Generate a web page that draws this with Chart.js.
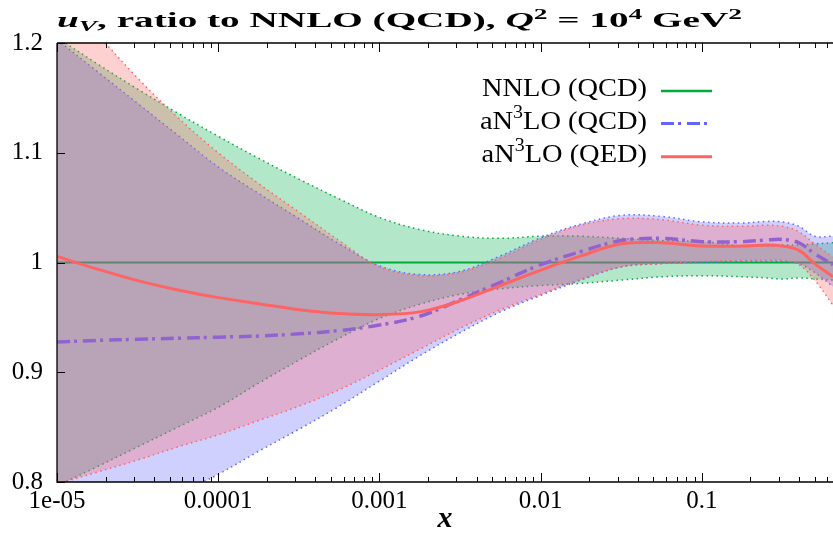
<!DOCTYPE html>
<html>
<head>
<meta charset="utf-8">
<script src="https://cdn.jsdelivr.net/npm/chart.js@4.4.1/dist/chart.umd.min.js"></script>
<style>
html, body { margin: 0; padding: 0; background: #fff; }
#wrap { position: relative; width: 833px; height: 541px; }
</style>
</head>
<body>
<div id="wrap"><canvas id="uv-ratio" width="833" height="541"></canvas></div>
<script>
// u_V ratio to NNLO (QCD) at Q^2 = 1e4 GeV^2

var xVals = [1e-5, 1.778e-5, 3.162e-5, 5.623e-5, 1e-4, 1.778e-4, 3.162e-4, 5.623e-4,
             1e-3, 1.778e-3, 3.162e-3, 5.623e-3, 0.01, 0.01778, 0.03162, 0.05623,
             0.1, 0.1778, 0.25, 0.316, 0.4, 0.5, 0.65];

// NNLO (QCD) band + central
var nnloHi  = [1.205, 1.181, 1.158, 1.136, 1.115, 1.095, 1.076, 1.058, 1.041, 1.030, 1.024, 1.022,
               1.024, 1.024, 1.022, 1.020, 1.019, 1.015, 1.015, 1.016, 1.016, 1.017, 1.018];
var nnloLo  = [0.7965, 0.814, 0.832, 0.850, 0.868, 0.890, 0.911, 0.931, 0.949, 0.962, 0.971, 0.976,
               0.979, 0.981, 0.984, 0.987, 0.988, 0.987, 0.986, 0.985, 0.986, 0.985, 0.984];
var nnloMid = [1, 1, 1, 1, 1, 1, 1, 1, 1, 1, 1, 1, 1, 1, 1, 1, 1, 1, 1, 1, 1, 1, 1];

// aN3LO (QCD)
var qcdHi  = [1.203, 1.174, 1.145, 1.116, 1.087, 1.063, 1.040, 1.017, 0.997, 0.989, 0.992, 1.006,
              1.0225, 1.035, 1.043, 1.042, 1.037, 1.036, 1.0374, 1.037, 1.033, 1.024, 1.024];
var qcdLo  = [0.733, 0.752, 0.771, 0.789, 0.807, 0.828, 0.848, 0.869, 0.892, 0.915, 0.936, 0.955,
              0.970, 0.984, 0.996, 0.999, 1.000, 1.001, 1.001, 1.001, 0.999, 0.991, 0.978];
var qcdMid = [0.9276, 0.929, 0.930, 0.931, 0.932, 0.933, 0.935, 0.938, 0.943, 0.951, 0.966, 0.982,
              0.998, 1.010, 1.020, 1.022, 1.019, 1.019, 1.0205, 1.021, 1.018, 1.008, 0.998];

// aN3LO (QED)
var qedHi  = [1.247, 1.208, 1.168, 1.132, 1.100, 1.072, 1.046, 1.020, 0.996, 0.988, 0.991, 1.004,
              1.021, 1.034, 1.040, 1.039, 1.034, 1.033, 1.034, 1.033, 1.028, 1.017, 1.005];
var qedLo  = [0.798, 0.809, 0.820, 0.832, 0.843, 0.856, 0.869, 0.884, 0.902, 0.921, 0.940, 0.957,
              0.971, 0.985, 0.996, 0.999, 1.001, 1.002, 1.002, 1.002, 0.998, 0.984, 0.961];
var qedMid = [1.0055, 0.994, 0.9835, 0.975, 0.968, 0.9625, 0.957, 0.9535, 0.9525, 0.955, 0.965, 0.979,
              0.993, 1.006, 1.017, 1.018, 1.015, 1.015, 1.016, 1.015, 1.011, 0.999, 0.987];

var xTickVals = [1e-5, 1e-4, 1e-3, 1e-2, 1e-1];
var xTickLabels = ["1e-05", "0.0001", "0.001", "0.01", "0.1"];
var yTickVals = [0.8, 0.9, 1.0, 1.1, 1.2];
var yTickLabels = ["0.8", "0.9", "1", "1.1", "1.2"];

var SERIF = '"Liberation Serif", "DejaVu Serif", serif';
var GREEN = "rgb(0,170,60)", BLUE = "rgb(100,100,255)", RED = "rgb(255,100,100)";

function pts(arr) {
  return arr.map(function(v, i) { return { x: xVals[i], y: v }; });
}

function bandEdge(arr, color, order, fillColor) {
  return {
    data: pts(arr),
    borderColor: color,
    borderWidth: 1.5,
    borderDash: [1.5, 3.5],
    pointRadius: 0,
    tension: 0.35,
    fill: fillColor ? "+1" : false,
    backgroundColor: fillColor || "transparent",
    order: order
  };
}

// rich text helpers (sub/superscripts)
function setFont(ctx, f, size) { ctx.font = ((f || "") + " " + size + "px " + SERIF).trim(); }
function richWidth(ctx, parts, size) {
  var w = 0;
  parts.forEach(function(p) {
    setFont(ctx, p.f, p.s ? size * 0.7 : size);
    w += ctx.measureText(p.t).width;
  });
  return w;
}
function drawRich(ctx, parts, x, y, size) {
  parts.forEach(function(p) {
    setFont(ctx, p.f, p.s ? size * 0.7 : size);
    var dy = p.s === "sup" ? -size * 0.4 : (p.s === "sub" ? size * 0.2 : 0);
    ctx.fillText(p.t, x, y + dy);
    x += ctx.measureText(p.t).width;
  });
}

var titleParts = [
  { t: "u", f: "italic bold" }, { t: "V", f: "italic bold", s: "sub" },
  { t: ", ratio to NNLO (QCD), ", f: "bold" },
  { t: "Q", f: "italic bold" }, { t: "2", f: "bold", s: "sup" },
  { t: " = 10", f: "bold" }, { t: "4", f: "bold", s: "sup" },
  { t: " GeV", f: "bold" }, { t: "2", f: "bold", s: "sup" }
];

var legendRows = [
  { parts: [{ t: "NNLO (QCD)" }], color: GREEN, dash: [], width: 2.5 },
  { parts: [{ t: "aN" }, { t: "3", s: "sup" }, { t: "LO (QCD)" }], color: BLUE, dash: [13, 4, 3, 6], width: 3 },
  { parts: [{ t: "aN" }, { t: "3", s: "sup" }, { t: "LO (QED)" }], color: RED, dash: [], width: 3 }
];

// inward ticks, frame, title and key
var decor = {
  id: "decor",
  afterDatasetsDraw: function(chart) {
    var ctx = chart.ctx, a = chart.chartArea;
    var xs = chart.scales.x, ys = chart.scales.y;
    ctx.save();
    ctx.strokeStyle = "#000";
    ctx.lineWidth = 1.3;
    ctx.beginPath();
    ctx.moveTo(a.left, a.top); ctx.lineTo(a.right, a.top);
    ctx.moveTo(a.left, a.top); ctx.lineTo(a.left, a.bottom);
    ctx.lineTo(a.right, a.bottom);
    ctx.stroke();

    ctx.lineWidth = 1;
    ctx.beginPath();
    xTickVals.forEach(function(v) {
      var px = Math.round(xs.getPixelForValue(v)) + 0.5;
      ctx.moveTo(px, a.bottom); ctx.lineTo(px, a.bottom - 9);
      ctx.moveTo(px, a.top); ctx.lineTo(px, a.top + 9);
      for (var m = 2; m <= 9; m++) {
        var mv = v * m;
        if (mv > xs.max) break;
        var mp = Math.round(xs.getPixelForValue(mv)) + 0.5;
        ctx.moveTo(mp, a.bottom); ctx.lineTo(mp, a.bottom - 5);
        ctx.moveTo(mp, a.top); ctx.lineTo(mp, a.top + 5);
      }
    });
    yTickVals.forEach(function(v) {
      var py = Math.round(ys.getPixelForValue(v)) + 0.5;
      ctx.moveTo(a.left, py); ctx.lineTo(a.left + 8, py);
    });
    ctx.stroke();
    ctx.restore();
  },
  afterDraw: function(chart) {
    var ctx = chart.ctx;
    ctx.save();
    ctx.fillStyle = "#000";
    ctx.textBaseline = "alphabetic";
    ctx.textAlign = "left";

    // title
    var tSize = 21;
    var tw = richWidth(ctx, titleParts, tSize);
    ctx.save();
    ctx.translate(57, 27);
    ctx.scale(685 / tw, 1);
    drawRich(ctx, titleParts, 0, 0, tSize);
    ctx.restore();

    // key
    var lSize = 26;
    var sx = 165 / richWidth(ctx, legendRows[0].parts, lSize);
    var baselines = [96, 128.5, 161.7];
    var lineYs = [91, 123.5, 156.7];
    legendRows.forEach(function(r, i) {
      var w = richWidth(ctx, r.parts, lSize) * sx;
      ctx.save();
      ctx.translate(647 - w, baselines[i]);
      ctx.scale(sx, 1);
      drawRich(ctx, r.parts, 0, 0, lSize);
      ctx.restore();
      ctx.save();
      ctx.strokeStyle = r.color;
      ctx.lineWidth = r.width;
      ctx.setLineDash(r.dash);
      ctx.beginPath();
      ctx.moveTo(661, lineYs[i]); ctx.lineTo(712, lineYs[i]);
      ctx.stroke();
      ctx.restore();
    });
    ctx.restore();
  }
};

var canvas = document.getElementById("uv-ratio");
var chart = new Chart(canvas.getContext("2d"), {
  type: "line",
  data: {
    datasets: [
      bandEdge(nnloHi, GREEN, 9, "rgba(0,176,80,0.3)"),
      bandEdge(nnloLo, GREEN, 8),
      { data: pts(nnloMid), borderColor: GREEN, borderWidth: 2, pointRadius: 0, fill: false, order: 7 },
      bandEdge(qcdHi, BLUE, 6, "rgba(100,100,255,0.3)"),
      bandEdge(qcdLo, BLUE, 5),
      { data: pts(qcdMid), borderColor: BLUE, borderWidth: 3.5, borderDash: [13, 4, 3, 6],
        pointRadius: 0, tension: 0.35, fill: false, order: 4 },
      bandEdge(qedHi, RED, 3, "rgba(255,100,100,0.3)"),
      bandEdge(qedLo, RED, 2),
      { data: pts(qedMid), borderColor: RED, borderWidth: 3, pointRadius: 0, tension: 0.35, fill: false, order: 1 }
    ]
  },
  options: {
    responsive: false,
    animation: false,
    devicePixelRatio: 1,
    layout: { padding: { top: 43, left: 0, right: 0, bottom: 0 } },
    plugins: {
      legend: { display: false },
      tooltip: { enabled: false },
      title: { display: false }
    },
    scales: {
      x: {
        type: "logarithmic",
        min: 1e-5,
        max: 0.65,
        afterBuildTicks: function(s) { s.ticks = xTickVals.map(function(v) { return { value: v }; }); },
        afterFit: function(s) { s.height = 59; },
        grid: { display: false, drawTicks: false },
        border: { display: false },
        ticks: {
          autoSkip: false, maxRotation: 0, padding: 4, color: "#000",
          font: { family: SERIF, size: 25 },
          callback: function(v, i) { return xTickLabels[i]; }
        },
        title: {
          display: true, text: "x", color: "#000",
          font: { family: SERIF, size: 30, style: "italic", weight: "bold" },
          padding: { top: 0, bottom: 4 }
        }
      },
      y: {
        min: 0.8,
        max: 1.2,
        afterBuildTicks: function(s) { s.ticks = yTickVals.map(function(v) { return { value: v }; }); },
        afterFit: function(s) { s.width = 57; },
        grid: { display: false, drawTicks: false },
        border: { display: false },
        ticks: {
          padding: 14, color: "#000",
          font: { family: SERIF, size: 25 },
          callback: function(v, i) { return yTickLabels[i]; }
        }
      }
    }
  },
  plugins: [decor]
});
</script>
</body>
</html>
